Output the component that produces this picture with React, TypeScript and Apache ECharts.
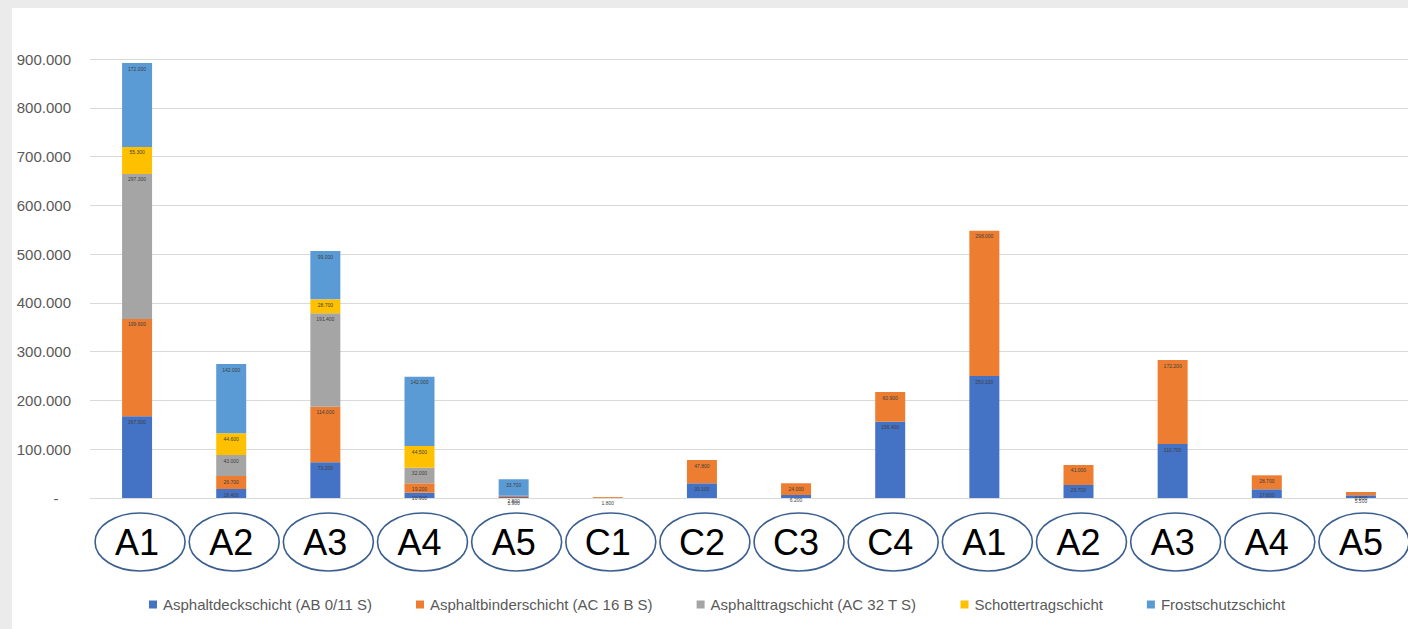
import React, { useEffect, useRef } from "react";
import * as echarts from "echarts";

const categories = ["A1", "A2", "A3", "A4", "A5", "C1", "C2", "C3", "C4", "A1 ", "A2 ", "A3 ", "A4 ", "A5 "];
const seriesNames = [
  "Asphaltdeckschicht (AB 0/11 S)",
  "Asphaltbinderschicht (AC 16 B S)",
  "Asphalttragschicht (AC 32 T S)",
  "Schottertragschicht",
  "Frostschutzschicht",
];
const deckschicht = [167500, 18400, 73200, 10900, 1900, null, 30100, 6200, 156400, 250100, 26700, 110700, 17800, 5500];
const binderschicht = [199600, 26700, 114000, 19200, 2800, 1800, 47800, 24000, 60900, 298000, 41000, 172200, 28700, 6800];
const tragschicht = [297300, 43000, 191400, 32000, null, null, null, null, null, null, null, null, null, null];
const schotter = [55300, 44600, 28700, 44500, null, null, null, null, null, null, null, null, null, null];
const frostschutz = [172000, 142000, 99000, 142000, 33700, null, null, null, null, null, null, null, null, null];
const yTicks = { min: 0, max: 900000, interval: 100000 };
const colors = ["#4472C4", "#ED7D31", "#A5A5A5", "#FFC000", "#5B9BD5"];

const fmt = (v: number) => Math.round(v).toString().replace(/\B(?=(\d{3})+(?!\d))/g, ".");

export default function App() {
  const ref = useRef<HTMLDivElement>(null);
  useEffect(() => {
    if (!ref.current) return;
    const chart = echarts.init(ref.current, undefined, { renderer: "svg" });
    const data = [deckschicht, binderschicht, tragschicht, schotter, frostschutz];
    const font = "'Liberation Sans', Arial, sans-serif";
    chart.setOption({
      animation: false,
      backgroundColor: "#ffffff",
      color: colors,
      grid: { left: 78, top: 51, bottom: 131, width: 1330 },
      legend: {
        left: 132,
        top: 584,
        icon: "rect",
        itemWidth: 8,
        itemHeight: 8,
        itemGap: 44,
        textStyle: { color: "#595959", fontSize: 15, fontFamily: font, padding: [0, 0, 0, 1] },
        data: seriesNames,
      },
      xAxis: {
        type: "category",
        data: categories,
        axisTick: { show: false },
        axisLine: { lineStyle: { color: "#d9d9d9" } },
        axisLabel: {
          color: "#000000",
          fontSize: 36,
          fontFamily: font,
          verticalAlign: "middle",
          margin: 44,
          interval: 0,
          formatter: (v: string) => v.trim(),
        },
      },
      yAxis: {
        type: "value",
        min: yTicks.min,
        max: yTicks.max,
        interval: yTicks.interval,
        axisLine: { show: false },
        axisTick: { show: false },
        splitLine: { lineStyle: { color: "#d9d9d9" } },
        axisLabel: {
          color: "#595959",
          fontSize: 15,
          fontFamily: font,
          margin: 19,
          formatter: (v: number) => (v === 0 ? "-   " : fmt(v)),
        },
      },
      series: seriesNames.map((name, i) => ({
        name,
        type: "bar",
        stack: "total",
        barWidth: 30,
        data: data[i],
        label: {
          show: true,
          position: "insideTop",
          distance: 3,
          fontSize: 5,
          color: "#404040",
          fontFamily: font,
          formatter: (p: any) => (p.value ? fmt(p.value) : ""),
        },
      })),
    });
    const ellipses = categories.map((_, i) => {
      const x = chart.convertToPixel({ xAxisIndex: 0 }, i) as number;
      return {
        type: "ellipse",
        silent: true,
        shape: { cx: x + 3, cy: 534, rx: 45, ry: 29 },
        style: { fill: "none", stroke: "#3A5F8F", lineWidth: 1.6 },
      };
    });
    chart.setOption({ graphic: ellipses });
    return () => chart.dispose();
  }, []);
  return (
    <div style={{ position: "fixed", left: 0, top: 0, width: 1408, height: 629, background: "#ebebeb" }}>
      <div
        ref={ref}
        style={{ position: "absolute", left: 12, top: 8, width: 1396, height: 621, background: "#ffffff" }}
      />
    </div>
  );
}
